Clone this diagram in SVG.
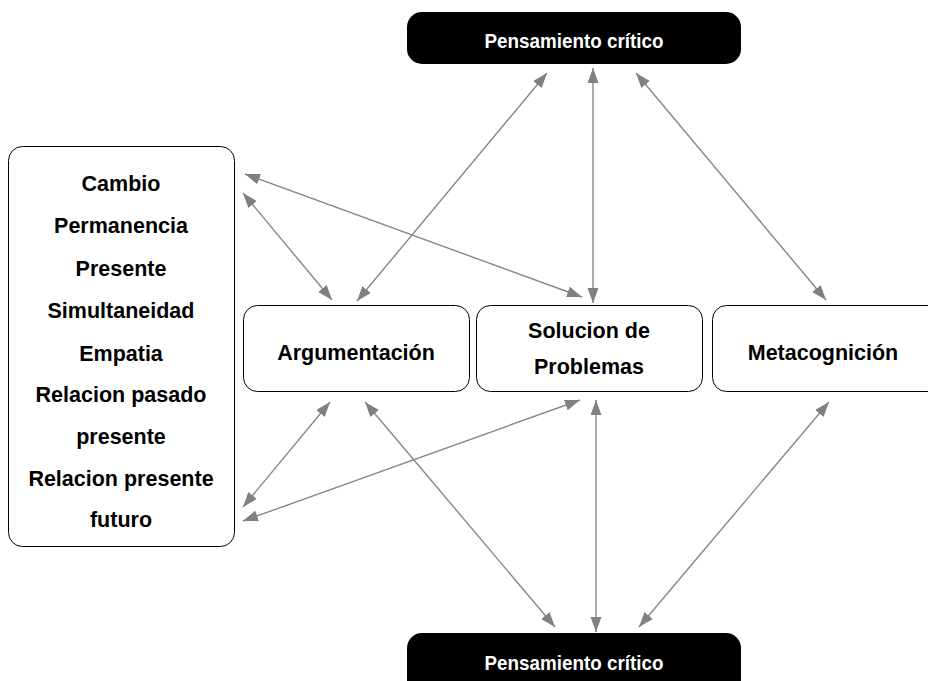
<svg xmlns="http://www.w3.org/2000/svg" width="928" height="681" viewBox="0 0 928 681">
<style>
.t{font-family:"Liberation Sans",Arial,sans-serif;font-weight:bold;font-size:21.5px;text-anchor:middle;fill:#000}
.tw{fill:#fff;font-size:21px}
.box{fill:#fff;stroke:#000;stroke-width:1}
.dark{fill:#000}
.c line{stroke:#878787;stroke-width:1.4;marker-start:url(#ah);marker-end:url(#ah)}
</style>
<defs>
<marker id="ah" markerUnits="userSpaceOnUse" markerWidth="16" markerHeight="12" refX="15" refY="5.5" orient="auto-start-reverse">
<path d="M0,0 L15,5.5 L0,11 z" fill="#808080"/>
</marker>
</defs>
<rect width="928" height="681" fill="#fff"/>
<g id="top">
<rect class="dark" x="407" y="12" width="334" height="52" rx="15"/>
<text class="t tw" x="574" y="48" textLength="179" lengthAdjust="spacingAndGlyphs">Pensamiento crítico</text>
</g>
<g id="bottom">
<rect class="dark" x="407" y="633" width="334" height="70" rx="15"/>
<text class="t tw" x="574" y="670" textLength="179" lengthAdjust="spacingAndGlyphs">Pensamiento crítico</text>
</g>
<g id="left">
<rect class="box" x="8.5" y="146.5" width="226" height="400" rx="14"/>
<text class="t" x="121" y="191">Cambio</text>
<text class="t" x="121" y="233">Permanencia</text>
<text class="t" x="121" y="276">Presente</text>
<text class="t" x="121" y="318">Simultaneidad</text>
<text class="t" x="121" y="361">Empatia</text>
<text class="t" x="121" y="402">Relacion pasado</text>
<text class="t" x="121" y="444">presente</text>
<text class="t" x="121" y="486">Relacion presente</text>
<text class="t" x="121" y="527">futuro</text>
</g>
<g id="arg">
<rect class="box" x="243.5" y="305.5" width="226" height="86" rx="14"/>
<text class="t" x="356" y="360">Argumentación</text>
</g>
<g id="sol">
<rect class="box" x="476.5" y="305.5" width="226" height="86" rx="14"/>
<text class="t" x="589" y="338">Solucion de</text>
<text class="t" x="589" y="374">Problemas</text>
</g>
<g id="meta">
<rect class="box" x="712.5" y="305.5" width="230" height="86" rx="14"/>
<text class="t" x="823" y="360">Metacognición</text>
</g>
<g class="c" id="connectors">
<line x1="547" y1="73" x2="357" y2="301"/>
<line x1="593" y1="68" x2="593" y2="303"/>
<line x1="636" y1="73" x2="826" y2="300"/>
<line x1="245" y1="174" x2="582" y2="297"/>
<line x1="243" y1="193" x2="332" y2="300"/>
<line x1="330" y1="402" x2="243" y2="507"/>
<line x1="580" y1="400" x2="243" y2="521"/>
<line x1="365" y1="402" x2="555" y2="627"/>
<line x1="596" y1="400" x2="596" y2="632"/>
<line x1="829" y1="402" x2="639" y2="627"/>
</g>
</svg>
